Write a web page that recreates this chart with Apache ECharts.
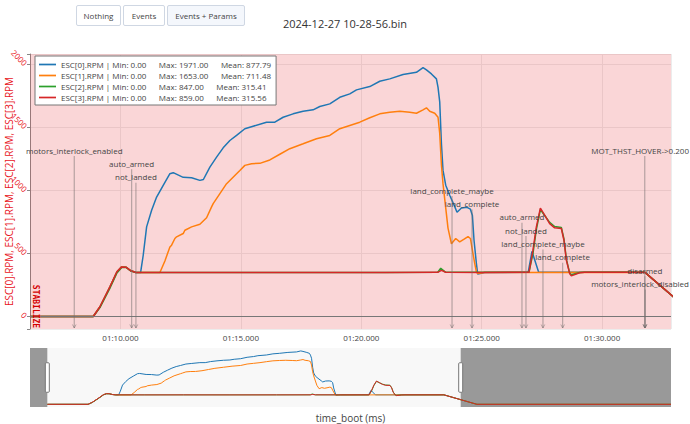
<!DOCTYPE html>
<html>
<head>
<meta charset="utf-8">
<script src="https://cdn.jsdelivr.net/npm/echarts@6/dist/echarts.min.js"></script>
<style>
html,body{margin:0;padding:0;background:#fff;}
#chart{position:absolute;left:0;top:0;width:690px;height:424px;}
.btn{position:absolute;top:5px;height:21px;box-sizing:border-box;font:8px "Open Sans",sans-serif;color:#444;background:#fff;border:1px solid #cfd7e3;border-radius:2px;padding:0;z-index:10;}
.btn.on{background:#f4f7fc;}
</style>
</head>
<body>
<div id="chart"></div>
<button class="btn" style="left:76px;width:45px;">Nothing</button>
<button class="btn" style="left:123px;width:42px;">Events</button>
<button class="btn on" style="left:167px;width:78px;">Events + Params</button>
<script>
// ---------------- data ----------------
const TITLE = '2024-12-27 10-28-56.bin';
const X_NAME = 'time_boot (ms)';
const Y_NAME = 'ESC[0].RPM, ESC[1].RPM, ESC[2].RPM, ESC[3].RPM';
const SERIES_NAMES = ['ESC[0].RPM', 'ESC[1].RPM', 'ESC[2].RPM', 'ESC[3].RPM'];
const STAT_MIN = ['0.00', '0.00', '0.00', '0.00'];
const STAT_MAX = ['1971.00', '1653.00', '847.00', '859.00'];
const STAT_MEAN = ['877.79', '711.48', '315.41', '315.56'];

// [time_boot ms, rpm]
const ESC0 = [[66250,0],[68871,0],[69149,77],[69564,235],[69855,354],[70050,393],[70228,391],[70436,362],[70643,349],[70838,349],[70946,485],[71087,710],[71295,841],[71502,946],[71776,1039],[72054,1131],[72191,1139],[72606,1102],[72954,1099],[73299,1078],[73444,1085],[73714,1183],[73992,1262],[74266,1336],[74544,1394],[74822,1434],[75166,1487],[75510,1507],[76066,1539],[76411,1539],[76755,1578],[77170,1605],[77585,1626],[78000,1637],[78278,1663],[78693,1684],[79108,1736],[79523,1763],[79801,1795],[80353,1821],[80768,1863],[81183,1882],[81734,1916],[82290,1934],[82564,1971],[82705,1953],[82913,1921],[83120,1882],[83187,1815],[83257,1700],[83328,1368],[83394,1157],[83506,1040],[83672,960],[83880,870],[83975,826],[84158,860],[84390,865],[84531,850],[84614,800],[84681,604],[84780,420],[84834,336],[85124,348],[86930,350],[87087,515],[87199,450],[87365,350],[91776,350],[93900,0],[106400,0]];
const ESC1 = [[66250,0],[68871,0],[69149,77],[69564,235],[69855,354],[70050,393],[70228,391],[70436,362],[70643,349],[71639,349],[71846,440],[72054,551],[72124,565],[72261,618],[72332,631],[72606,657],[72676,683],[72954,710],[73299,730],[73577,782],[73784,868],[73851,894],[74129,973],[74407,1052],[74822,1131],[74959,1157],[75166,1197],[75444,1210],[75788,1213],[76203,1240],[76618,1285],[77033,1329],[77585,1368],[78141,1408],[78693,1434],[79108,1487],[79523,1513],[79938,1539],[80353,1574],[80768,1605],[81183,1618],[81598,1626],[82012,1618],[82290,1610],[82564,1637],[82705,1653],[82842,1625],[83050,1610],[83187,1578],[83257,1450],[83328,1200],[83394,1050],[83506,860],[83601,700],[83743,576],[83921,618],[84087,591],[84253,610],[84432,633],[84531,618],[84614,525],[84710,420],[84780,354],[84834,340],[85124,348],[91776,350],[93900,0],[106400,0]];
const ESC2 = [[66250,0],[68871,0],[69149,70],[69564,225],[69855,345],[70050,388],[70228,390],[70436,360],[70643,349],[75000,349],[81000,349],[83174,350],[83300,382],[83506,350],[86963,350],[87129,500],[87270,690],[87436,847],[87614,800],[87822,745],[88029,712],[88307,705],[88415,615],[88515,455],[88651,345],[88722,330],[89066,348],[89274,350],[91776,350],[93900,0],[106400,0]];
const ESC3 = [[66250,0],[68871,0],[69149,77],[69564,235],[69855,354],[70050,393],[70228,391],[70436,362],[70643,349],[72500,348],[75000,349],[78000,348],[81000,349],[83174,350],[83328,365],[83506,350],[85000,349],[86963,350],[87129,525],[87270,710],[87436,859],[87614,802],[87822,736],[88029,702],[88307,697],[88415,604],[88515,446],[88651,341],[88722,322],[89066,346],[89274,350],[91776,350],[93900,0],[106400,0]];

const EVENTS = [[68083,'motors_interlock_enabled'],[70465,'auto_armed'],[70643,'not_landed'],[83768,'land_complete_maybe'],[84598,'land_complete'],[86672,'auto_armed'],[86838,'not_landed'],[87544,'land_complete_maybe'],[88361,'land_complete'],[91776,'disarmed'],[91790,'motors_interlock_disabled']];
const PARAMS = [[91770,'MOT_THST_HOVER->0.200']];
const MODES = [[66250,106400,'STABILIZE']];

const FULL_RANGE = [65130, 106400];   // range-slider extent
const VIEW_RANGE = [66245, 92860];    // visible window of the main plot
const Y_RANGE = [-99, 2079];

// ---------------- chart ----------------
const COLORS = ['#1f77b4', '#ff7f0e', '#2ca02c', '#d62728'];
const RED = '#e8141c';
const FONT = '"Open Sans", sans-serif';
const DATA = [ESC0, ESC1, ESC2, ESC3];
const W = 690;
const OV = { left: 30, right: 19, top: 348, height: 59 };

function pad(n, w) { n = String(n); while (n.length < w) n = '0' + n; return n; }
function fmtTime(ms) {
  const m = Math.floor(ms / 60000);
  const s = Math.floor(ms / 1000) % 60;
  const r = Math.round(ms % 1000);
  return pad(m, 2) + ':' + pad(s, 2) + '.' + pad(r, 3);
}
const measureCtx = document.createElement('canvas').getContext('2d');
function textWidth(t, font) { measureCtx.font = font; return measureCtx.measureText(t).width; }

const EVENT_ROWS = EVENTS.map((e, i) => [e[0], i, e[1]])
  .concat(PARAMS.map((p, i) => [p[0], i, p[1]]));

const chart = echarts.init(document.getElementById('chart'), null, { renderer: 'svg' });

const mainSeries = DATA.map((d, i) => {
  const s = {
    name: SERIES_NAMES[i], type: 'line', xAxisIndex: 0, yAxisIndex: 0,
    data: d, symbol: 'none', showSymbol: false, silent: true,
    lineStyle: { width: 1.5, color: COLORS[i] }, itemStyle: { color: COLORS[i] },
    z: 3
  };
  if (i === 0) {
    s.markArea = {
      silent: true,
      itemStyle: { color: 'rgba(232,50,55,0.2)', borderWidth: 0 },
      label: { show: false },
      data: MODES.map(m => [{ xAxis: m[0] }, { xAxis: m[1] }])
    };
    s.markLine = {
      silent: true, symbol: 'none', label: { show: false },
      lineStyle: { color: '#777', type: 'solid', width: 1 },
      data: [{ yAxis: 0 }]
    };
  }
  return s;
});

const overviewSeries = DATA.map((d, i) => {
  const s = {
    name: SERIES_NAMES[i], type: 'line', xAxisIndex: 1, yAxisIndex: 1,
    data: d, symbol: 'none', showSymbol: false, silent: true,
    lineStyle: { width: 1, color: COLORS[i] }, itemStyle: { color: COLORS[i] },
    z: 3
  };
  if (i === 0) {
    s.markArea = {
      silent: true,
      itemStyle: { color: '#999999', borderWidth: 0 },
      label: { show: false },
      data: [
        [{ xAxis: FULL_RANGE[0] }, { xAxis: VIEW_RANGE[0] }],
        [{ xAxis: VIEW_RANGE[1] }, { xAxis: FULL_RANGE[1] }]
      ]
    };
  }
  return s;
});

const eventSeries = {
  type: 'custom', xAxisIndex: 0, yAxisIndex: 0, silent: true, clip: false, z: 6,
  data: EVENT_ROWS.map(r => [r[0], r[1]]),
  encode: { x: 0, y: 1 },
  renderItem: function (params, api) {
    const cs = params.coordSys;
    const x = api.coord([api.value(0), 0])[0];
    if (x < cs.x - 1 || x > cs.x + cs.width + 1) return;
    const level = api.value(1);
    const ty = cs.y + 96 + level * 13.35;
    const yb = cs.y + cs.height - 1;
    const stroke = 'rgba(115,110,110,0.5)';
    const label = EVENT_ROWS[params.dataIndex][2];
    const font = '8px ' + FONT;
    const tw = textWidth(label, font);
    const tx = Math.min(Math.max(x, tw / 2 + 1), W - 1 - tw / 2);
    return {
      type: 'group',
      children: [
        { type: 'line', shape: { x1: x, y1: ty + 6, x2: x, y2: yb }, style: { stroke: stroke, lineWidth: 1.2 } },
        { type: 'polyline', shape: { points: [[x - 1.8, yb - 3.5], [x, yb], [x + 1.8, yb - 3.5]] }, style: { stroke: stroke, fill: null, lineWidth: 1 } },
        { type: 'text', style: { text: label, x: tx, y: ty, align: 'center', verticalAlign: 'middle', font: font, fill: '#444' } }
      ]
    };
  }
};

const SP = '\u00a0\u00a0\u00a0\u00a0\u00a0\u00a0';

const option = {
  animation: false,
  backgroundColor: '#fff',
  title: {
    text: TITLE, left: 'center', top: 13,
    textStyle: { fontSize: 11, fontWeight: 'normal', color: '#333', fontFamily: FONT }
  },
  legend: {
    data: SERIES_NAMES, orient: 'vertical', left: 35, top: 56,
    backgroundColor: '#fff', borderColor: '#777', borderWidth: 1, borderRadius: 0,
    padding: [3, 5, 2, 4], itemGap: 0, itemWidth: 17, itemHeight: 2,
    icon: 'path://M0,0H20V2H0Z',
    textStyle: { fontSize: 8, lineHeight: 11, color: '#444', fontFamily: FONT, padding: 0 },
    formatter: function (name) {
      const i = SERIES_NAMES.indexOf(name);
      return name + ' | Min: ' + STAT_MIN[i] + SP + 'Max: ' + STAT_MAX[i] + SP + 'Mean: ' + STAT_MEAN[i];
    }
  },
  grid: [
    { left: 30, right: 19, top: 54, height: 275, containLabel: false, outerBoundsMode: 'none' },
    { left: OV.left, right: OV.right, top: OV.top, height: OV.height, show: true, backgroundColor: '#f8f8f8', borderWidth: 0, containLabel: false, outerBoundsMode: 'none' }
  ],
  xAxis: [
    {
      type: 'value', gridIndex: 0, min: VIEW_RANGE[0], max: VIEW_RANGE[1],
      axisLine: { show: false }, axisTick: { show: false },
      axisLabel: {
        fontSize: 8, color: '#444', fontFamily: FONT, margin: 4,
        formatter: v => (v % 5000 === 0 ? fmtTime(v) : '')
      },
      splitLine: { show: true, lineStyle: { color: '#ececec', width: 1 } }
    },
    {
      type: 'value', gridIndex: 1, min: FULL_RANGE[0], max: FULL_RANGE[1],
      name: X_NAME, nameLocation: 'middle', nameGap: 6, nameMoveOverlap: false,
      nameTextStyle: { fontSize: 10, color: '#444', fontFamily: FONT, verticalAlign: 'top' },
      axisLine: { show: false }, axisTick: { show: false }, axisLabel: { show: false },
      splitLine: { show: false }
    }
  ],
  yAxis: [
    {
      type: 'value', gridIndex: 0, min: Y_RANGE[0], max: Y_RANGE[1],
      name: Y_NAME, nameLocation: 'middle', nameGap: 16, nameMoveOverlap: false,
      nameTextStyle: { fontSize: 10, color: RED, fontFamily: FONT },
      axisLine: { show: true, lineStyle: { color: '#888', width: 1 } },
      axisTick: { show: true, length: 3, lineStyle: { color: '#888' } },
      axisLabel: {
        rotate: -45, fontSize: 8, color: RED, fontFamily: FONT, margin: 4,
        formatter: v => (v % 500 === 0 ? String(v) : '')
      },
      splitLine: { show: true, lineStyle: { color: '#ececec', width: 1 } }
    },
    {
      type: 'value', gridIndex: 1, min: Y_RANGE[0], max: Y_RANGE[1], show: false
    }
  ],
  graphic: [{
    id: 'mode', type: 'text', x: 35.5, y: 306.5, rotation: -Math.PI / 2, z: 100, silent: true,
    style: { text: MODES[0][2], align: 'center', verticalAlign: 'middle', font: 'bold 8px "DejaVu Sans Mono", monospace', fill: '#d40000' }
  }],
  series: mainSeries.concat(overviewSeries).concat([eventSeries])
};

chart.setOption(option);

// range-slider handles at the edges of the visible window
const handles = VIEW_RANGE.map((v, i) => {
  const px = chart.convertToPixel({ xAxisIndex: 1 }, v);
  return {
    id: 'handle' + i, type: 'rect', z: 100, silent: true,
    shape: { x: px - 2, y: OV.top + OV.height * 0.25, width: 4, height: OV.height * 0.5, r: 1 },
    style: { fill: '#fff', stroke: '#777', lineWidth: 1 }
  };
});
chart.setOption({ graphic: handles });
</script>
</body>
</html>
